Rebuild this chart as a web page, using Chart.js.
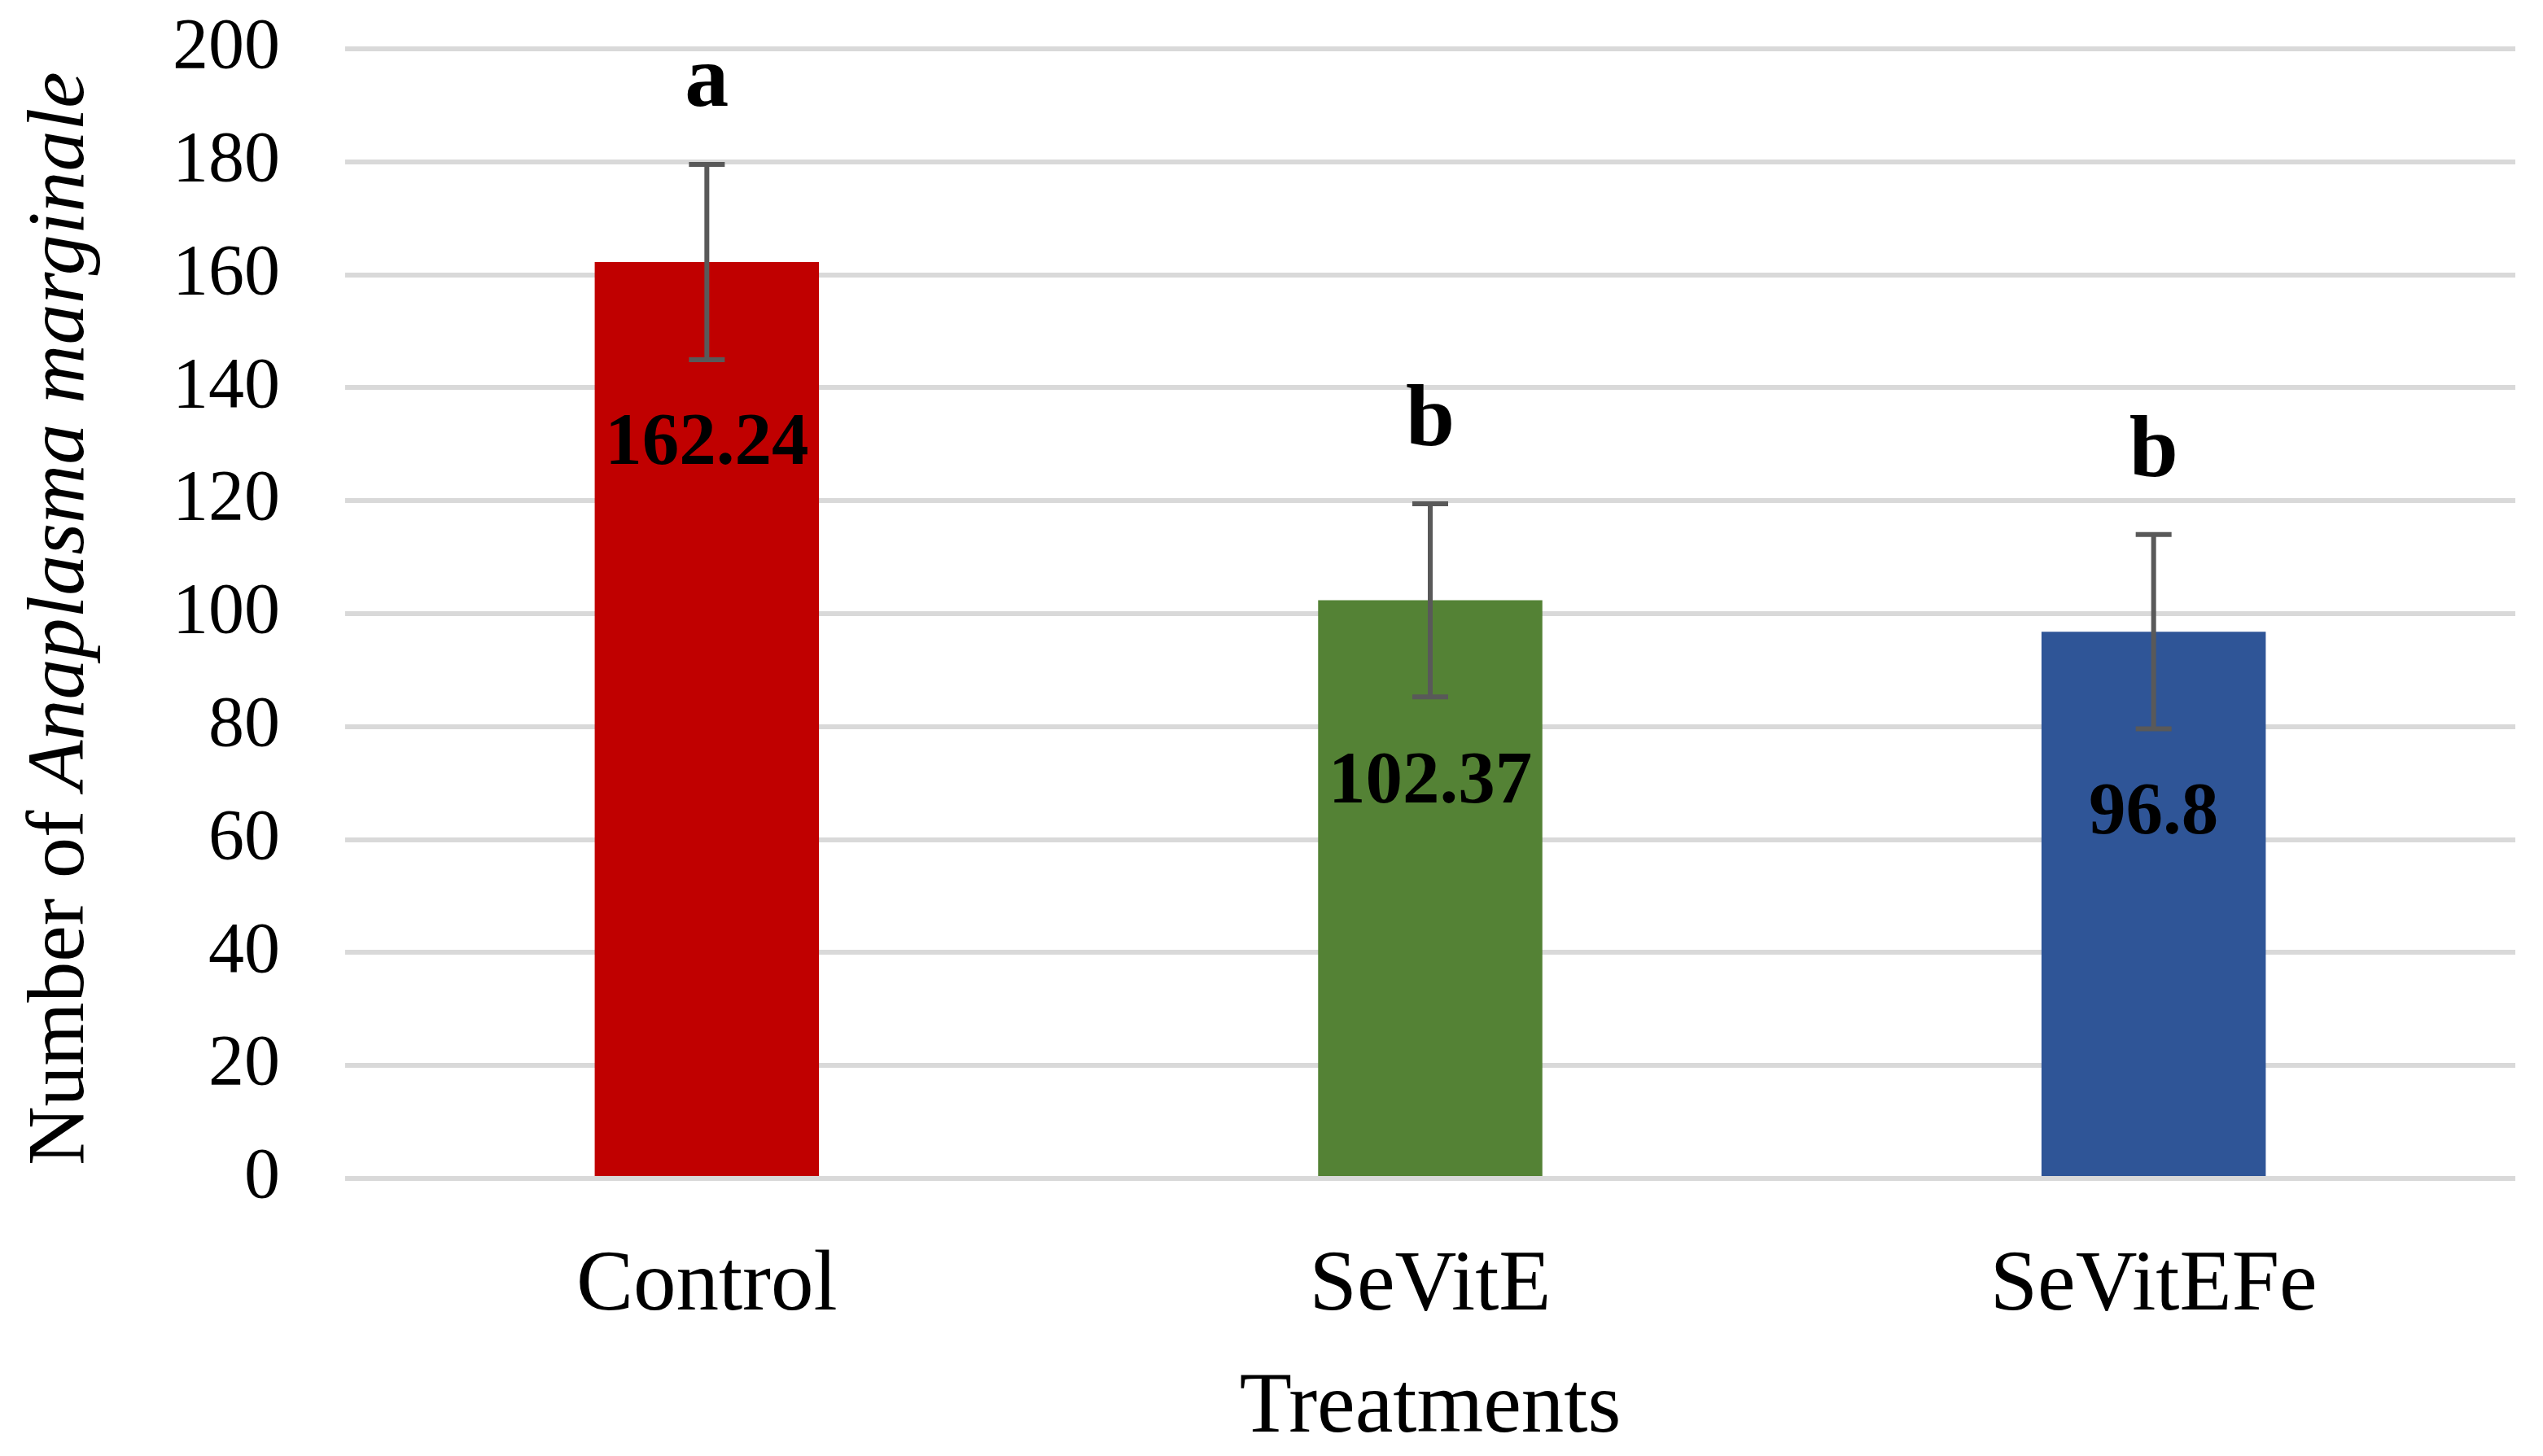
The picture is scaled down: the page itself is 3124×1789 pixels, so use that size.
<!DOCTYPE html>
<html lang="en">
<head>
  <title>Number of Anaplasma marginale by treatment</title>
  <script src="https://cdn.jsdelivr.net/npm/chart.js"></script>
  <style>
    html, body { margin: 0; padding: 0; background: #fff; }
    #wrap { width: 3124px; height: 1789px; }
  </style>
</head>
<body>
<div id="wrap"><canvas id="anaplasmaChart" width="3124" height="1789"></canvas></div>

<script>
const treatments = ['Control', 'SeVitE', 'SeVitEFe'];
const meanCounts = [162.24, 102.37, 96.8];
const errorSizes = [17.3, 17.1, 17.2];
const groupLetters = ['a', 'b', 'b'];
const barColors = ['#C00000', '#548235', '#2F5597'];
const yTicks = [0, 20, 40, 60, 80, 100, 120, 140, 160, 180, 200];

const serif = '"Liberation Serif", "Times New Roman", serif';

// error bars, value labels, letters and the mixed-style y title
const annotate = {
  id: 'annotate',
  afterDatasetsDraw(chart) {
    const { ctx, scales: { y } } = chart;
    const meta = chart.getDatasetMeta(0);
    ctx.save();
    meta.data.forEach((bar, i) => {
      const cx = bar.x;
      const top = y.getPixelForValue(meanCounts[i] + errorSizes[i]);
      const bot = y.getPixelForValue(meanCounts[i] - errorSizes[i]);
      ctx.strokeStyle = '#595959';
      ctx.lineWidth = 6;
      ctx.beginPath();
      ctx.moveTo(cx, top); ctx.lineTo(cx, bot);
      ctx.moveTo(cx - 22, top); ctx.lineTo(cx + 22, top);
      ctx.moveTo(cx - 22, bot); ctx.lineTo(cx + 22, bot);
      ctx.stroke();

      ctx.fillStyle = '#000';
      ctx.textAlign = 'center';
      ctx.textBaseline = 'alphabetic';
      ctx.font = 'bold 91px ' + serif;
      ctx.fillText(String(meanCounts[i]), cx, bar.y + 248);
      ctx.font = 'bold 108px ' + serif;
      ctx.fillText(groupLetters[i], cx, top - 72);
    });

    // y axis title: "Number of " + italic species name
    const plain = 'Number of ';
    const ital = 'Anaplasma marginale';
    const fPlain = '100px ' + serif;
    const fItal = 'italic 100px ' + serif;
    ctx.font = fPlain;
    const w1 = ctx.measureText(plain).width;
    ctx.font = fItal;
    const w2 = ctx.measureText(ital).width;
    const area = chart.chartArea;
    ctx.translate(102, (area.top + area.bottom) / 2 + 6);
    ctx.rotate(-Math.PI / 2);
    ctx.textAlign = 'left';
    ctx.textBaseline = 'alphabetic';
    const start = -(w1 + w2) / 2;
    ctx.font = fPlain;
    ctx.fillText(plain, start, 0);
    ctx.font = fItal;
    ctx.fillText(ital, start + w1, 0);
    ctx.restore();
  }
};

new Chart(document.getElementById('anaplasmaChart').getContext('2d'), {
  type: 'bar',
  data: {
    labels: treatments,
    datasets: [{
      label: 'Number of Anaplasma marginale',
      data: meanCounts,
      backgroundColor: barColors,
      borderWidth: 0,
      barPercentage: 0.31,
      categoryPercentage: 1
    }]
  },
  plugins: [annotate],
  options: {
    animation: false,
    responsive: false,
    devicePixelRatio: 1,
    layout: { padding: { top: 60, right: 34, bottom: 0, left: 0 } },
    plugins: {
      legend: { display: false },
      tooltip: { enabled: false }
    },
    scales: {
      x: {
        grid: { display: false },
        border: { display: false },
        ticks: {
          color: '#000',
          padding: 62,
          font: { family: serif, size: 105 }
        },
        title: {
          display: true,
          text: 'Treatments',
          color: '#000',
          font: { family: serif, size: 105, lineHeight: 1.1 },
          padding: { top: 0, bottom: 0 }
        },
        afterFit(scale) {
          scale.height = 341;
          scale.paddingLeft = 0;
          scale.paddingRight = 0;
        }
      },
      y: {
        min: yTicks[0],
        max: yTicks[yTicks.length - 1],
        afterBuildTicks(scale) { scale.ticks = yTicks.map(v => ({ value: v })); },
        grid: { color: '#d9d9d9', lineWidth: 6, drawTicks: false },
        border: { display: false },
        ticks: {
          color: '#000',
          padding: 80,
          font: { family: serif, size: 88 }
        },
        afterFit(scale) {
          scale.width = 424;
          scale.paddingTop = 0;
          scale.paddingBottom = 0;
        }
      }
    }
  }
});
</script>
</body>
</html>
